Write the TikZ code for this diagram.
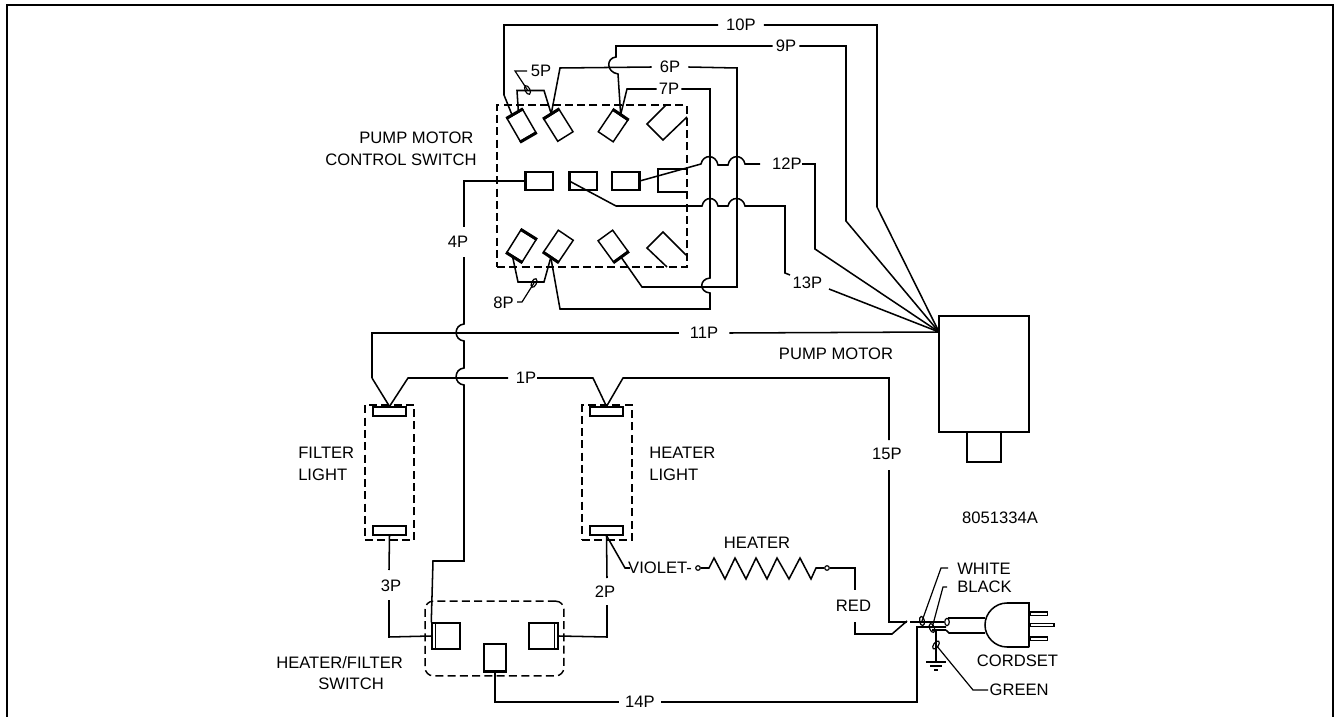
\documentclass[tikz,border=0pt]{standalone}
\usepackage{fontspec}
\setmainfont{Liberation Sans}
\usetikzlibrary{calc,shapes.geometric}
\tikzset{
  wire/.style={line width=1.15pt,line join=miter,color=black},
  thinw/.style={line width=0.9pt,color=black},
  dash box/.style={draw,line width=1.1pt,dash pattern=on 6pt off 3.2pt,inner sep=0pt},
  sw/.style={draw,line width=1.1pt,inner sep=0pt,minimum width=13.5pt,minimum height=19.5pt},
  hsw/.style={draw,line width=1.1pt,inner sep=0pt,minimum width=20.2pt,minimum height=13.5pt},
  tube/.style={draw,line width=1.1pt,inner sep=0pt,minimum width=24.5pt,minimum height=6.5pt},
  box/.style={draw,line width=1.1pt,inner sep=0pt},
  heavy/.style={line width=2.2pt},
  lbl/.style={inner sep=0pt,font=\fontsize{12.45}{16.4}\selectfont,text=black},
  oval/.style={draw,ellipse,line width=0.9pt,inner sep=0pt,minimum width=3.6pt,minimum height=7pt},
  term/.style={draw,circle,line width=0.9pt,inner sep=0pt,minimum size=3.4pt},
}
\begin{document}
\begin{tikzpicture}[x=0.75pt,y=-0.75pt]
\useasboundingbox (0,0) rectangle (1336,717);
% frame
\draw[line width=1.6pt] (7,717) -- (7,5) -- (1333,5) -- (1333,717);
% ---- pump control switch
\node[dash box,minimum width=142.5pt,minimum height=121.5pt] (pcs) at (592,186) {};
\node[sw,rotate=30] (s1) at (521.5,125.5) {};
\node[sw,rotate=32] (s2) at (558.5,125.5) {};
\node[sw,rotate=-34] (s3) at (613,126) {};
\node[sw,rotate=-32] (s5) at (521.5,246) {};
\node[sw,rotate=-34] (s6) at (558.5,246) {};
\node[sw,rotate=36] (s7) at (613,246) {};
\node[hsw] (m1) at (539.5,181) {};
\node[hsw] (m2) at (583.5,181) {};
\node[hsw] (m3) at (625.5,181) {};
\draw[heavy] (s1.north west) -- (s1.north east);
\draw[heavy] (s1.south west) -- (s1.south east);
\draw[heavy] (s2.north west) -- (s2.north east);
\draw[heavy] (s3.north west) -- (s3.north east);
\draw[heavy] (s5.north west) -- (s5.north east);
\draw[heavy] (s5.south west) -- (s5.south east);
\draw[heavy] (s6.south west) -- (s6.south east);
\draw[heavy] (s7.south west) -- (s7.south east);
\draw[heavy] (m1.north west) -- (m1.south west);
\draw[heavy] (m2.north west) -- (m2.south west);
\draw[heavy] (m3.north east) -- (m3.south east);
% open switches at right side
\draw[wire] (666,105) -- (647,124) -- (663,140) -- (687,117);
\draw[wire] (686,169) -- (658,169) -- (658,192) -- (686,192);
\draw[wire] (667,267) -- (647,248) -- (663,232) -- (686,255);
% ---- lights
\node[dash box,minimum width=36.8pt,minimum height=101pt] (fl) at (389.5,472.5) {};
\node[dash box,minimum width=37.5pt,minimum height=101pt] (hl) at (607,472.5) {};
\node[tube] (ft) at (389.5,411.5) {};
\node[tube] (fb) at (389.5,530.5) {};
\node[tube] (ht) at (606.5,411.5) {};
\node[tube] (hb) at (606.5,530.5) {};
% ---- heater / filter switch
\node[dash box,rounded corners=6pt,minimum width=104pt,minimum height=56pt] (hfs) at (494.5,638.5) {};
\node[box,minimum width=21pt,minimum height=19.5pt] (a1) at (446,636) {};
\node[box,minimum width=21.8pt,minimum height=19.5pt] (a2) at (543.5,636) {};
\node[box,minimum width=16.7pt,minimum height=21pt] (a3) at (495,658) {};
\draw[line width=1pt] ($(a1.north west)+(3.2pt,0)$) -- ($(a1.south west)+(3.2pt,0)$);
\draw[line width=1pt] ($(a2.north east)+(-3.2pt,0)$) -- ($(a2.south east)+(-3.2pt,0)$);
\draw[heavy,line width=1.9pt] ($(a3.south west)+(0,0.9pt)$) -- ($(a3.south east)+(0,0.9pt)$);
% ---- motor
\node[box,minimum width=67.5pt,minimum height=87pt] (mot) at (984,374) {};
\node[box,minimum width=25.5pt,minimum height=21.8pt,anchor=north] (shaft) at (984,432) {};
\coordinate (mp) at (939,332);
% ---- labels
\node[lbl,align=left] (tpcs) at (401,149) {\hspace*{25.5pt}PUMP MOTOR\\CONTROL SWITCH};
\node[lbl,inner xsep=5.8pt] (l10) at (741,25) {10P};
\node[lbl,inner xsep=2.2pt] (l9) at (786,46) {9P};
\node[lbl,inner xsep=6pt] (l6) at (670,67) {6P};
\node[lbl,inner xsep=1.5pt] (l7) at (669,89) {7P};
\node[lbl] (l5) at (541,71) {5P};
\node[lbl] (l12) at (787,164) {12P};
\node[lbl] (l13) at (807.5,283) {13P};
\node[lbl] (l4) at (458,242) {4P};
\node[lbl] (l8) at (503.5,303) {8P};
\node[lbl,inner xsep=8.2pt] (l11) at (704,333) {11P};
\node[lbl] (l1) at (526,378) {1P};
\node[lbl] (l15) at (887,454) {15P};
\node[lbl] (l3) at (391,586) {3P};
\node[lbl] (l2) at (605,592) {2P};
\node[lbl,inner xsep=4.5pt] (l14) at (640,702) {14P};
\node[lbl] (tmot) at (836,354) {PUMP MOTOR};
\node[lbl] (tnum) at (1000,518) {8051334A};
\node[lbl,align=left,anchor=west] (tfl) at (298,464) {FILTER\\LIGHT};
\node[lbl,align=left,anchor=west] (thl) at (649,464) {HEATER\\LIGHT};
\node[lbl,align=left,anchor=west] (ths) at (276,673) {HEATER/FILTER\\\hspace*{31.5pt}SWITCH};
\node[lbl] (tviolet) at (660,568) {VIOLET-};
\node[lbl] (theater) at (757,543) {HEATER};
\node[lbl] (tred) at (853.5,606) {RED};
\node[lbl,anchor=west] (twhite) at (957,569) {WHITE};
\node[lbl,anchor=west] (tblack) at (957,587) {BLACK};
\node[lbl] (tcord) at (1017.5,661) {CORDSET};
\node[lbl,anchor=west,inner xsep=1pt] (tgreen) at (988,690) {GREEN};
% ---- wires to pump motor
\draw[wire] ($(s1.north west)!.35!(s1.north east)$) -- (504,95) -- (504,25) -- (l10.west);
\draw[wire] (l10.east) -- (877,25) -- (877,207) -- (mp);
\draw[wire] (s3.north) -- (618,74) .. controls (606,72) and (606,58) .. (616,57) -- (616,46) -- (l9.west);
\draw[wire] (l9.east) -- (846,46) -- (846,221) -- (mp);
\draw[wire] (m3.east) -- (701,164) .. controls (703,154) and (716,154) .. (718,165) -- (728,165) .. controls (730,154) and (743,154) .. (745,164) -- (760,164);
\draw[wire] (802,164) -- (815,164) -- (815,249) -- (mp);
\draw[wire] (m2.west) -- (616,206) -- (702,206) .. controls (704,196) and (716,196) .. (718,206) -- (728,206) .. controls (730,196) and (743,196) .. (745,206) -- (785,206) -- (785,273) -- (790,275);
\draw[wire] (829,289) -- (mp);
\draw[wire] (372,378) -- (372,333) -- (l11.west);
\draw[wire] (l11.east) -- (mot.west |- mp);
% ---- 5P, 6P, 7P, 8P
\node[oval,rotate=25] (o5) at (527.5,90) {};
\node[oval,rotate=-25] (o8) at (534,283) {};
\draw[wire] ($(s1.north west)!.72!(s1.north east)$) -- (517,90.5) -- (544,90.5) -- (s2.north);
\draw[thinw] (o5.center) -- (515,71) -- (527,71);
\draw[wire] (s2.north) -- (560,68) -- (l6.west);
\draw[wire] (l6.east) -- (737,68) -- (737,287) -- (642,287) -- (s7.south);
\draw[wire] (s3.north) -- (627,89) -- (l7.west);
\draw[wire] (l7.east) -- (710,89) -- (710,278) .. controls (699,279) and (699,292) .. (710,293) -- (710,309) -- (560,309) -- (s6.south);
\draw[wire] ($(s5.south west)!.4!(s5.south east)$) -- (518,282) -- (544,282) -- (s6.south);
\draw[thinw] (o8.center) -- (522,302) -- (517,302);
% ---- 4P
\draw[wire] (m1.west) -- (464,181) -- (464,227);
\draw[wire] (464,257) -- (464,324) .. controls (453.5,325) and (453.5,340) .. (464,341) -- (464,368) .. controls (453.5,369) and (453.5,384) .. (464,385) -- (464,561) -- (433,561) -- (a1.west |- a1.north);
% ---- light feeds
\draw[wire] (372,378) -- (ft.north);
\draw[wire] (ft.north) -- (408,378) -- (508,378);
\draw[wire] (537,378) -- (593,378) -- (ht.north);
\draw[wire] (ht.north) -- (623,378) -- (889,378) -- (889,440);
\draw[wire] (889,470) -- (889,622) -- (907,622);
\draw[wire] (fb.south) -- (389,570);
\draw[wire] (389,600) -- (389,637) -- (a1.west);
\draw[wire] (hb.south) -- (607,578);
\draw[wire] (607,605) -- (607,637) -- (a2.east);
\draw[wire] (a3.south) -- (495,702) -- (l14.west);
\draw[wire] (l14.east) -- (917,702) -- (917,627);
% ---- heater
\node[term] (c1) at (698,568) {};
\node[term] (c2) at (827,568) {};
\draw[wire] (hb.south) -- (625,568) -- (630,568);
\draw[wire] (c1) -- (709,568) -- (714,558) -- (725,579) -- (735,558) -- (746,579) -- (756,558) -- (767,579) -- (777,558) -- (789,579) -- (800,558) -- (811,579) -- (816,568) -- (c2);
\draw[wire] (c2) -- (855,568) -- (855,590);
\draw[wire] (855,622) -- (855,634) -- (892,634) -- (907,621);
% ---- cordset
\node[oval,rotate=10] (ow) at (922,621) {};
\node[oval,rotate=20] (ob) at (932,628) {};
\node[oval,rotate=-35] (og) at (936,645) {};
\node[oval,minimum width=3.4pt,minimum height=5.5pt] (oj) at (947,622) {};
\draw[wire] (910,622) -- (oj);
\draw[wire] (916,627) -- (946,627) (946,630) -- (949,633) -- (985,633);
\draw[wire] (948,618) -- (985,618);
\draw[thinw] (932,630) -- (946,630);
\draw[thinw] (936,630) -- (936,662);
\draw[wire] (926,662) -- (946,662);
\draw[wire] (930,666) -- (942,666);
\draw[wire] (934,670) -- (938,670);
\draw[thinw] (ow.center) -- (941,568) -- (948,568);
\draw[thinw] (ob.center) -- (943,587) -- (947,587);
\draw[thinw] (og.center) -- (973,690) -- (tgreen.west);
\draw[wire] (1029,647) -- (1029,603) -- (1007,603) .. controls (995,603) and (985,613) .. (985,625) .. controls (985,637) and (995,647) .. (1007,647) -- (1029,647);
\node[box,minimum width=12.5pt,minimum height=2.6pt,anchor=west] (p1) at (1030,613.5) {};
\node[box,minimum width=17.5pt,minimum height=2.6pt,anchor=west] (p2) at (1030,625) {};
\node[box,minimum width=12.5pt,minimum height=2.6pt,anchor=west] (p3) at (1030,638.5) {};
\end{tikzpicture}
\end{document}
